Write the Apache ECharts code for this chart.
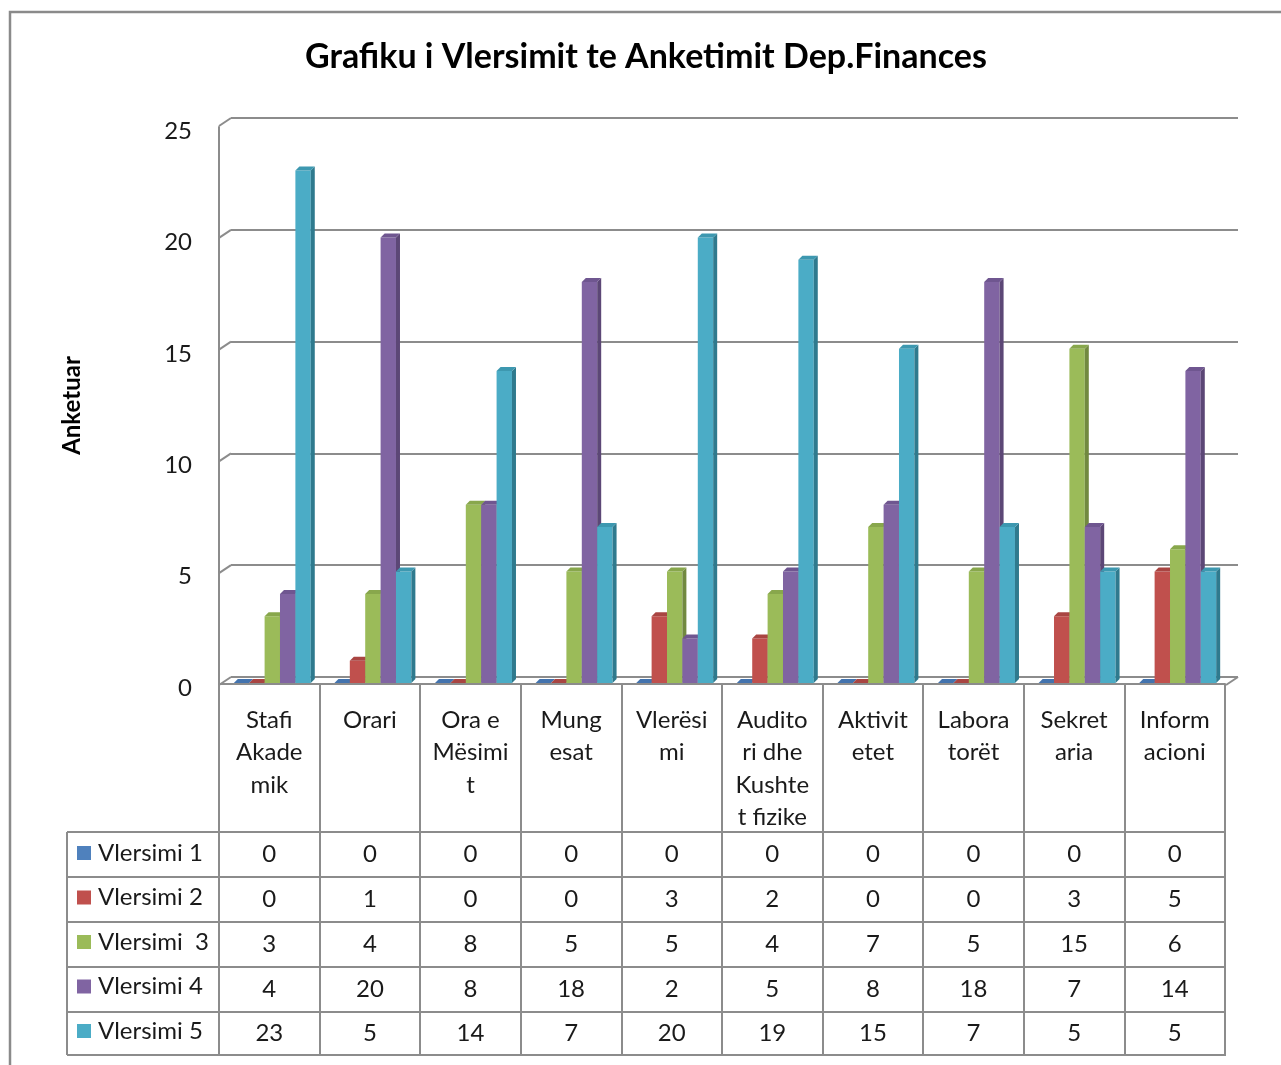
<!DOCTYPE html>
<html><head><meta charset="utf-8">
<script src="https://cdn.jsdelivr.net/npm/echarts@6/dist/echarts.min.js"></script>
<style>html,body{margin:0;padding:0;background:#fff}#c{width:1281px;height:1065px}</style>
</head><body><div id="c"></div>
<script>
// ---- data ----
const categories = ["Stafi\nAkade\nmik", "Orari", "Ora e\nMësimi\nt", "Mung\nesat", "Vlerësi\nmi", "Audito\nri dhe\nKushte\nt fizike", "Aktivit\netet", "Labora\ntorët", "Sekret\naria", "Inform\nacioni"];
const seriesNames = ["Vlersimi 1", "Vlersimi 2", "Vlersimi  3", "Vlersimi 4", "Vlersimi 5"];
const vlersimi1 = [0, 0, 0, 0, 0, 0, 0, 0, 0, 0];
const vlersimi2 = [0, 1, 0, 0, 3, 2, 0, 0, 3, 5];
const vlersimi3 = [3, 4, 8, 5, 5, 4, 7, 5, 15, 6];
const vlersimi4 = [4, 20, 8, 18, 2, 5, 8, 18, 7, 14];
const vlersimi5 = [23, 5, 14, 7, 20, 19, 15, 7, 5, 5];
const yTicks = [0, 5, 10, 15, 20, 25];
const titleText = "Grafiku i Vlersimit te Anketimit Dep.Finances";
const yName = "Anketuar";

// ---- styles ----
const rows = [vlersimi1, vlersimi2, vlersimi3, vlersimi4, vlersimi5];
const colors = [
  {f: '#4F81BD', s: '#385D8A', t: '#4373AE'},
  {f: '#C0504D', s: '#8C3836', t: '#A94542'},
  {f: '#9BBB59', s: '#71893F', t: '#88A74C'},
  {f: '#8064A2', s: '#5C4776', t: '#6F5690'},
  {f: '#4BACC6', s: '#2F7A8E', t: '#3D98B0'}
];
const FONT = 'Lato';
const FS = 24;
const GRAY = '#8c8c8c';
const TXT = '#1a1a1a';
const W = 1281, H = 1065;
const F = {l: 219, r: 1225, t: 127, b: 684};   // front plane
const B = {l: 231, r: 1238, t: 118, b: 677};   // back wall
const tableLeft = 67;
const rowLines = [832, 877, 922, 967, 1012, 1055];
const DX = -12, DY = 8, D = 4;

const chart = echarts.init(document.getElementById('c'), null, {renderer: 'canvas'});

const xAxes = [{
  gridIndex: 0, type: 'category', data: categories, position: 'bottom',
  axisLine: {show: true, lineStyle: {color: GRAY, width: 2}},
  axisTick: {show: true, length: rowLines[rowLines.length - 1] - F.b, interval: 0, lineStyle: {color: GRAY, width: 2}},
  axisLabel: {interval: 0, fontFamily: FONT, fontSize: FS, color: TXT, lineHeight: 32.5, margin: 20, verticalAlign: 'top', align: 'center'},
  splitLine: {show: false}
}];
rows.forEach((r, k) => {
  const center = (rowLines[k] + rowLines[k + 1]) / 2;
  xAxes.push({
    gridIndex: 0, type: 'category', data: categories, position: 'bottom', offset: 0,
    axisLine: {show: false}, axisTick: {show: false}, splitLine: {show: false},
    axisLabel: {interval: 0, fontFamily: FONT, fontSize: FS, color: TXT, margin: center - F.b, verticalAlign: 'middle',
      formatter: (v, i) => String(r[i])}
  });
});
xAxes.push({gridIndex: 1, type: 'value', min: 0, max: 1, show: false});

const series = rows.map((r, k) => ({
  name: seriesNames[k], type: 'custom', xAxisIndex: 0, yAxisIndex: 0, z: 5,
  itemStyle: {color: colors[k].f},
  data: r.map((v, i) => [i, v]),
  encode: {x: 0, y: 1},
  renderItem: function (params, api) {
    const i = api.value(0), v = api.value(1);
    const base = api.coord([i, 0]);
    const top = api.coord([i, v]);
    const cw = api.size([1, 0])[0];
    const bw = cw * 0.153;
    const x0 = base[0] - 2.5 * bw + k * bw + 3;
    const x1 = x0 + bw;
    const yb = base[1] - 1, yt = top[1] - 1;
    const c = colors[k];
    return {type: 'group', children: [
      {type: 'rect', shape: {x: x0, y: yt, width: bw, height: yb - yt}, style: {fill: c.f}},
      {type: 'polygon', shape: {points: [[x1, yt], [x1 + D, yt - D], [x1 + D, yb - D], [x1, yb]]}, style: {fill: c.s}},
      {type: 'polygon', shape: {points: [[x0, yt], [x0 + D, yt - D], [x1 + D, yt - D], [x1, yt]]}, style: {fill: c.t}}
    ]};
  }
}));

// slanted connectors from front axis to back wall gridlines, plus floor right edge
series.push({
  type: 'custom', xAxisIndex: 6, yAxisIndex: 1, z: 2, silent: true,
  data: yTicks.map(v => [0, v]).concat([[1, 0]]),
  encode: {x: 0, y: 1},
  renderItem: function (params, api) {
    const p = api.coord([api.value(0), api.value(1)]);
    return {type: 'line', shape: {x1: p[0], y1: p[1], x2: p[0] + DX, y2: p[1] + DY}, style: {stroke: GRAY, lineWidth: 2}};
  }
});

const graphics = [];
// outer border
graphics.push({type: 'polyline', shape: {points: [[10, H], [10, 12], [W, 12]]}, style: {stroke: '#8a8a8a', lineWidth: 2.5, fill: null}});
// table horizontal lines
rowLines.forEach(y => graphics.push({type: 'line', shape: {x1: tableLeft, y1: y, x2: F.r + 1, y2: y}, style: {stroke: GRAY, lineWidth: 2}}));
graphics.push({type: 'line', shape: {x1: tableLeft, y1: rowLines[0], x2: tableLeft, y2: rowLines[rowLines.length - 1]}, style: {stroke: GRAY, lineWidth: 2}});

chart.setOption({
  animation: false,
  backgroundColor: '#fff',
  title: {text: titleText, left: 300, top: 35, textStyle: {fontFamily: FONT, fontSize: 34, fontWeight: 'bold', color: '#000'}},
  legend: {
    data: seriesNames, orient: 'vertical', left: 77, top: 841, icon: 'rect', itemWidth: 14, itemHeight: 14,
    itemGap: 20.5, padding: 0, selectedMode: false,
    textStyle: {fontFamily: FONT, fontSize: FS, color: TXT, padding: [0, 0, 0, 2]}
  },
  grid: [
    {left: F.l, right: W - F.r, top: F.t, bottom: H - F.b, containLabel: false},
    {left: B.l, right: W - B.r, top: B.t, bottom: H - B.b, containLabel: false}
  ],
  xAxis: xAxes,
  yAxis: [
    {gridIndex: 0, type: 'value', min: 0, max: 25, interval: 5,
      axisLine: {show: true, lineStyle: {color: GRAY, width: 2}}, axisTick: {show: false}, splitLine: {show: false},
      axisLabel: {fontFamily: FONT, fontSize: FS, color: TXT, margin: 27, verticalAlign: 'top', lineHeight: 8},
      name: yName, nameLocation: 'middle', nameGap: 135, nameRotate: 90,
      nameTextStyle: {fontFamily: FONT, fontSize: 24, fontWeight: 'bold', color: '#000'}},
    {gridIndex: 1, type: 'value', min: 0, max: 25, interval: 5,
      axisLine: {show: false}, axisTick: {show: false}, axisLabel: {show: false},
      splitLine: {show: true, lineStyle: {color: GRAY, width: 2}}}
  ],
  series: series,
  graphic: graphics
});
</script></body></html>
